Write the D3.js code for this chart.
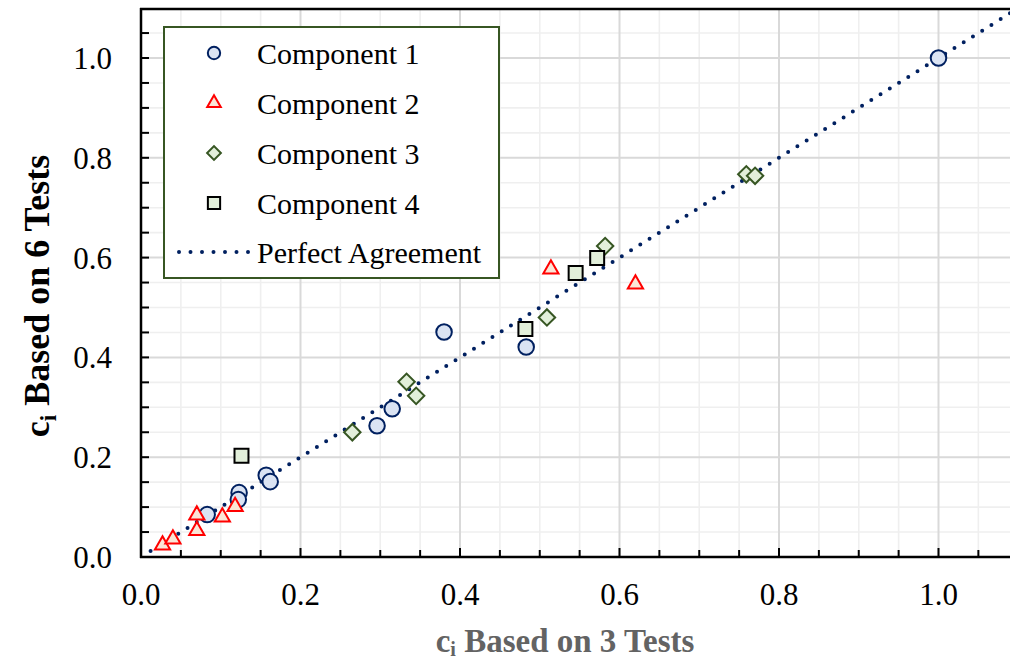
<!DOCTYPE html>
<html><head><meta charset="utf-8">
<script src="https://cdn.jsdelivr.net/npm/d3@7"></script>
<style>body{margin:0;background:#fff}svg{display:block}text{font-family:"Liberation Serif","Times New Roman",serif}</style>
</head><body><svg id="c" width="1010" height="662"></svg>
<script>
// Data
const c1x = [1.0, 0.380, 0.483, 0.315, 0.296, 0.157, 0.162, 0.123, 0.122, 0.083];
const c1y = [1.0, 0.451, 0.421, 0.297, 0.263, 0.164, 0.151, 0.129, 0.115, 0.085];
const c2x = [0.027, 0.040, 0.070, 0.070, 0.102, 0.118, 0.514, 0.620];
const c2y = [0.024, 0.036, 0.084, 0.053, 0.080, 0.101, 0.577, 0.547];
const c3x = [0.265, 0.333, 0.345, 0.509, 0.582, 0.759, 0.770];
const c3y = [0.250, 0.351, 0.323, 0.480, 0.623, 0.767, 0.764];
const c4x = [0.126, 0.482, 0.545, 0.572];
const c4y = [0.203, 0.457, 0.569, 0.599];
const lineX = [0.012, 1.1];
const xTicks = [0.0, 0.2, 0.4, 0.6, 0.8, 1.0];
const yTicks = [0.0, 0.2, 0.4, 0.6, 0.8, 1.0];
const seriesNames = ["Component 1", "Component 2", "Component 3", "Component 4", "Perfect Agreement"];

const svg = d3.select("#c");
const x = d3.scaleLinear().domain([0, 1.09]).range([141, 141 + 1.09 * 797.5]);
const y = d3.scaleLinear().domain([0, 1.1]).range([557, 557 - 1.1 * 499]);
const X0 = x(0), X1 = 1010, Y0 = y(0), Y1 = 9;

const minor = d3.range(1, 22).map(i => +(i * 0.05).toFixed(2));
const isMajor = v => Math.abs(v / 0.2 - Math.round(v / 0.2)) < 1e-6;

// grid
const g = svg.append("g");
minor.filter(v => !isMajor(v) && x(v) < X1).forEach(v => g.append("line").attr("x1", x(v)).attr("x2", x(v)).attr("y1", Y1).attr("y2", Y0).attr("stroke", "#efefef").attr("stroke-width", 1.6));
minor.filter(v => !isMajor(v) && y(v) > Y1).forEach(v => g.append("line").attr("y1", y(v)).attr("y2", y(v)).attr("x1", X0).attr("x2", X1).attr("stroke", "#efefef").attr("stroke-width", 1.6));
minor.filter(v => isMajor(v) && x(v) < X1).forEach(v => g.append("line").attr("x1", x(v)).attr("x2", x(v)).attr("y1", Y1).attr("y2", Y0).attr("stroke", "#d9d9d9").attr("stroke-width", 2));
minor.filter(v => isMajor(v) && y(v) > Y1).forEach(v => g.append("line").attr("y1", y(v)).attr("y2", y(v)).attr("x1", X0).attr("x2", X1).attr("stroke", "#d9d9d9").attr("stroke-width", 2));

// clip
svg.append("clipPath").attr("id", "clip").append("rect").attr("x", X0).attr("y", Y1).attr("width", X1 - X0).attr("height", Y0 - Y1);

// perfect agreement line
svg.append("path").attr("clip-path", "url(#clip)")
  .attr("d", d3.line().x(d => x(d)).y(d => y(d))(lineX))
  .attr("fill", "none").attr("stroke", "#002060").attr("stroke-width", 4)
  .attr("stroke-linecap", "round").attr("stroke-dasharray", "0 10.9");

// markers
const sym = (type, size) => d3.symbol().type(type).size(size)();
function drawSeries(xs, ys, type, size, fill, stroke, rot) {
  xs.forEach((v, i) => {
    svg.append("path").attr("d", sym(type, size))
      .attr("transform", `translate(${x(v)},${y(ys[i])})` + (rot ? ` rotate(${rot})` : ""))
      .attr("fill", fill).attr("stroke", stroke).attr("stroke-width", 2);
  });
}
const styles = [
  {type: d3.symbolCircle, size: 190, fill: "#dae3f3", stroke: "#002060"},
  {type: d3.symbolTriangle, size: 100, fill: "#fbe5d6", stroke: "#ff0000"},
  {type: d3.symbolSquare, size: 135, fill: "#e2efda", stroke: "#375623", rot: 45},
  {type: d3.symbolSquare, size: 195, fill: "#e2efda", stroke: "#000000"}
];
[[c1x, c1y], [c2x, c2y], [c3x, c3y], [c4x, c4y]].forEach((s, i) => {
  const st = styles[i];
  drawSeries(s[0], s[1], st.type, st.size, st.fill, st.stroke, st.rot);
});

// axes lines
svg.append("line").attr("x1", X0).attr("x2", X0).attr("y1", Y1 - 1).attr("y2", Y0 + 1).attr("stroke", "#000").attr("stroke-width", 2.5);
svg.append("line").attr("x1", X0 - 1).attr("x2", X1).attr("y1", Y0).attr("y2", Y0).attr("stroke", "#000").attr("stroke-width", 2.5);
svg.append("line").attr("x1", X0 - 1).attr("x2", X1).attr("y1", Y1).attr("y2", Y1).attr("stroke", "#000").attr("stroke-width", 2.5);

// ticks
[0].concat(minor).filter(v => y(v) > Y1 + 2).forEach(v => svg.append("line").attr("x1", X0).attr("x2", X0 + 8).attr("y1", y(v)).attr("y2", y(v)).attr("stroke", "#000").attr("stroke-width", 2));
minor.filter(v => x(v) < X1).forEach(v => svg.append("line").attr("x1", x(v)).attr("x2", x(v)).attr("y1", Y0).attr("y2", Y0 - (isMajor(v) ? 9 : 7)).attr("stroke", "#000").attr("stroke-width", 2));

// tick labels
const fmt = d3.format(".1f");
xTicks.forEach(v => svg.append("text").attr("x", x(v)).attr("y", 605).attr("text-anchor", "middle").attr("font-size", 31).attr("fill", "#000").text(fmt(v)));
yTicks.forEach(v => svg.append("text").attr("x", 112).attr("y", y(v) + 11).attr("text-anchor", "end").attr("font-size", 31).attr("fill", "#000").text(fmt(v)));

// axis titles
const xt = svg.append("text").attr("x", 565).attr("y", 652).attr("text-anchor", "middle").attr("font-size", 33).attr("font-weight", "bold").attr("fill", "#636363");
xt.append("tspan").text("c");
xt.append("tspan").attr("dy", 4).attr("font-size", 20).text("i");
xt.append("tspan").attr("dy", -4).text(" Based on 3 Tests");
const yt = svg.append("text").attr("transform", "translate(49,296) rotate(-90)").attr("text-anchor", "middle").attr("font-size", 36).attr("font-weight", "bold").attr("fill", "#000");
yt.append("tspan").text("c");
yt.append("tspan").attr("dy", 7).attr("font-size", 23).text("i");
yt.append("tspan").attr("dy", -7).text(" Based on 6 Tests");

// legend
const lg = svg.append("g");
lg.append("rect").attr("x", 164).attr("y", 27).attr("width", 335).attr("height", 251).attr("fill", "#fff").attr("stroke", "#375623").attr("stroke-width", 2);
const rowY = [53, 103, 153, 203, 252];
const legStyles = [
  {type: d3.symbolCircle, size: 120, fill: "#dae3f3", stroke: "#002060"},
  {type: d3.symbolTriangle, size: 80, fill: "#fbe5d6", stroke: "#ff0000"},
  {type: d3.symbolSquare, size: 95, fill: "#e2efda", stroke: "#375623", rot: 45},
  {type: d3.symbolSquare, size: 150, fill: "#e2efda", stroke: "#000000"}
];
legStyles.forEach((st, i) => {
  lg.append("path").attr("d", sym(st.type, st.size))
    .attr("transform", `translate(214,${rowY[i]})` + (st.rot ? ` rotate(${st.rot})` : ""))
    .attr("fill", st.fill).attr("stroke", st.stroke).attr("stroke-width", 2);
});
lg.append("line").attr("x1", 179).attr("x2", 249).attr("y1", rowY[4]).attr("y2", rowY[4])
  .attr("stroke", "#002060").attr("stroke-width", 4).attr("stroke-linecap", "round").attr("stroke-dasharray", "0 11.5");
seriesNames.forEach((n, i) => lg.append("text").attr("x", 257).attr("y", rowY[i] + 11).attr("font-size", 30).attr("fill", "#000").text(n));
</script></body></html>
